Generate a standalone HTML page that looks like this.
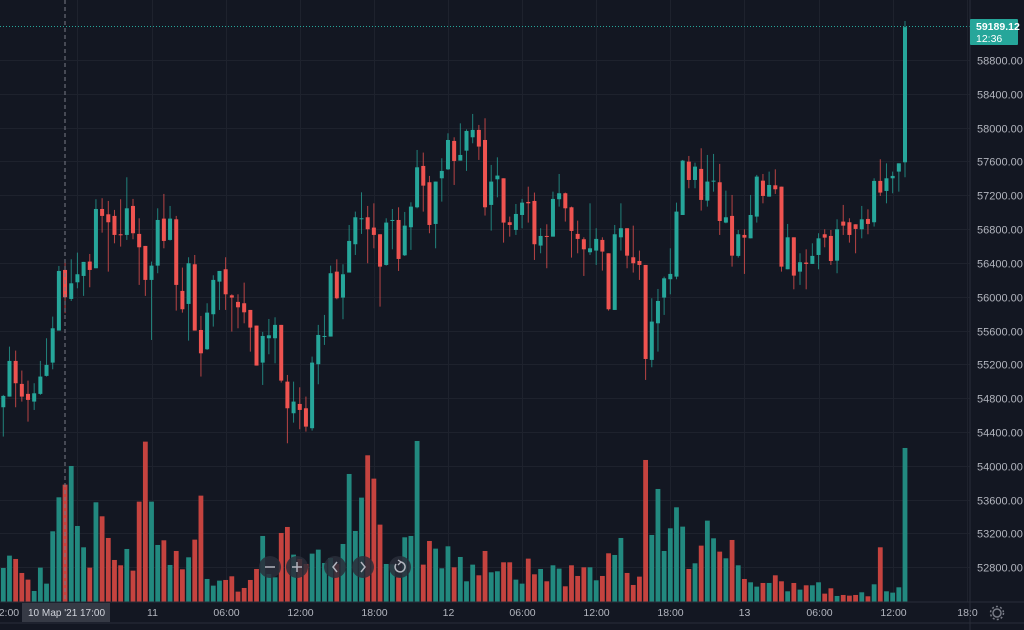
<!DOCTYPE html>
<html><head><meta charset="utf-8"><style>
html,body{margin:0;padding:0;background:#131722;width:1024px;height:630px;overflow:hidden}
svg{display:block;font-family:"Liberation Sans",sans-serif}
</style></head><body>
<svg id="chart" width="1024" height="630" viewBox="0 0 1024 630" xmlns="http://www.w3.org/2000/svg">
<rect x="0" y="0" width="1024" height="630" fill="#131722"/>
<g id="grid"></g>
<g id="vols"></g>
<g id="candles"></g>
<line x1="65" y1="0" x2="65" y2="602" stroke="#787b86" stroke-width="1" stroke-dasharray="4,3"/>
<line x1="0" y1="26.5" x2="970" y2="26.5" stroke="#26a69a" stroke-width="1" stroke-dasharray="1,2"/>
<line x1="970" y1="0" x2="970" y2="630" stroke="#2a2e39"/>
<line x1="0" y1="602" x2="1024" y2="602" stroke="#2a2e39"/>
<line x1="0" y1="623" x2="1024" y2="623" stroke="#2a2e39"/>
<g id="yaxis"></g>
<g id="xaxis"></g>
<g>
<rect x="970" y="19" width="48" height="26" fill="#26a69a" rx="1"/>
<text x="976" y="30" font-size="10.5" fill="#fff" font-weight="bold">59189.12</text>
<text x="976" y="42" font-size="10.5" fill="#fff">12:36</text>
</g>
<g>
<rect x="22" y="603" width="88" height="19" fill="#363a45"/>
<text x="28" y="616" font-size="10" fill="#d1d4dc">10 Мар '21</text>
<text x="80" y="616" font-size="10" fill="#d1d4dc">17:00</text>
</g>
<g><circle cx="270" cy="567" r="11" fill="#2a2e39" fill-opacity="0.85"/><line x1="265" y1="567" x2="275" y2="567" stroke="#b2b5be" stroke-width="1.5"/></g>
<g><circle cx="297" cy="567" r="11" fill="#2a2e39" fill-opacity="0.85"/><line x1="292" y1="567" x2="302" y2="567" stroke="#b2b5be" stroke-width="1.5"/><line x1="297" y1="562" x2="297" y2="572" stroke="#b2b5be" stroke-width="1.5"/></g>
<g><circle cx="335" cy="567" r="11" fill="#2a2e39" fill-opacity="0.85"/><polyline points="337,562 333,567 337,572" fill="none" stroke="#b2b5be" stroke-width="1.5"/></g>
<g><circle cx="363" cy="567" r="11" fill="#2a2e39" fill-opacity="0.85"/><polyline points="361,562 365,567 361,572" fill="none" stroke="#b2b5be" stroke-width="1.5"/></g>
<g><circle cx="400" cy="567" r="11" fill="#2a2e39" fill-opacity="0.85"/><path d="M396,564 A5,5 0 1 0 401,562" fill="none" stroke="#b2b5be" stroke-width="1.5"/><polyline points="398,560 401,562 398,565" fill="none" stroke="#b2b5be" stroke-width="1.3"/></g>
<g><circle cx="997" cy="613" r="4" fill="none" stroke="#787b86" stroke-width="1.5"/><circle cx="997" cy="613" r="6.5" fill="none" stroke="#787b86" stroke-width="1.5" stroke-dasharray="2,2.2"/></g>
</svg>
<script>
const opens=[54693,54819,55241,54969,54851,54760,54851,55064,55221,55600,56317,55974,56171,56246,56416,56337,57038,56975,56956,56739,56731,57074,56743,56601,56199,56368,56924,56672,56916,56069,55915,56384,55607,55379,55793,56179,56325,56017,55939,55923,55844,55659,55221,55509,55509,55667,54996,54622,54732,54681,54445,55202,55529,55529,56297,55990,56286,56621,56916,56940,56818,56739,56376,56900,56908,56490,56822,57058,57547,57354,56861,57401,57507,57843,57610,57728,57886,57973,57854,57086,57389,57401,56881,56790,56967,57121,57133,56605,56719,56711,57153,57224,57058,56743,56680,56526,56546,56672,56514,55844,56703,56810,56467,56423,56376,55253,55686,55990,56207,56238,56967,57598,57381,57512,57137,57362,57354,56877,56956,56483,56731,56691,56948,57373,57184,57318,57302,56325,56703,56297,56404,56388,56494,56739,56719,56427,56889,56881,56857,56798,56920,56881,57370,57251,57401,57480,57590];
const highs=[54839,55410,55363,55127,55008,54977,55241,55509,55765,56364,56404,56443,56522,56412,56506,57153,57165,57133,57027,57153,57413,57157,56928,56601,56416,57046,57216,57074,56956,56345,56467,56494,55773,55923,56254,56305,56467,56029,56029,56167,55844,55659,55584,55737,55757,55667,55075,54996,54929,54819,55292,55667,55785,56368,56443,56384,56849,57007,57235,57074,57105,56739,56928,57038,57058,57003,57117,57736,57705,57429,57362,57638,57933,57886,58051,57980,58162,58032,58111,57559,57649,57401,56948,57097,57157,57302,57232,56810,56857,57243,57452,57232,57066,56900,56703,57105,56810,56703,56514,56849,57105,56810,56841,56546,56376,55982,56092,56238,56573,57113,57618,57665,57586,57756,57677,57689,57571,57255,57204,56790,56798,57204,57441,57452,57480,57507,57302,56861,56703,56514,56561,56632,56751,56798,56790,56916,57086,56928,56857,57074,57034,57401,57626,57578,57480,57578,59262];
const lows=[54346,54819,54693,54760,54523,54661,54839,55056,55142,55600,55805,55950,56100,56010,56112,56337,56758,56297,56632,56593,56672,56680,56140,56010,55489,56278,56573,56664,55836,55812,55481,55600,55056,55371,55647,55844,55844,55588,55627,55686,55351,55186,54957,55320,55213,54985,54267,54511,54433,54405,54417,54965,55430,55529,55970,55734,56286,56494,56743,56396,56573,55883,56368,56561,56305,56482,56554,57046,57007,56751,56573,57125,57500,57322,57610,57488,57815,57618,56960,56782,57176,56640,56711,56731,56810,56877,56435,56514,56337,56711,57066,56889,56463,56514,56246,56494,56376,56309,55836,55844,56546,56337,56286,56199,55016,55166,55351,55785,56029,56207,56967,57283,57283,57019,57066,57243,56731,56869,56356,56463,56270,56691,56877,57105,57184,57216,56297,56325,56088,56140,56088,56388,56325,56585,56376,56278,56731,56640,56514,56691,56739,56830,57192,57105,57224,57243,57413];
const closes=[54827,55241,54977,54819,54780,54858,55056,55194,55627,56305,55994,56159,56266,56412,56317,57038,56956,56881,56731,56727,57046,56751,56585,56199,56368,56908,56660,56924,56140,55852,56396,55600,55331,55812,56199,56305,56029,55990,55875,55816,55635,55186,55536,55544,55667,55008,54681,54760,54661,54464,55221,55548,55536,56278,55982,56266,56660,56940,56928,56798,56731,56356,56877,56908,56447,56841,57066,57531,57314,56849,57362,57488,57854,57606,57677,57961,57973,57776,57058,57362,57433,56877,56849,56979,57113,57105,56621,56719,56707,57157,57224,57046,56778,56684,56561,56573,56684,56534,55852,56739,56810,56486,56396,56376,55264,55706,55950,56218,56270,57007,57610,57381,57539,57145,57362,57373,56896,56940,56486,56739,56699,56967,57421,57192,57322,57271,56356,56703,56250,56408,56388,56483,56691,56699,56423,56798,56841,56731,56802,56916,56861,57370,57232,57401,57429,57578,59189];
const volumes=[1030,1400,1300,880,680,340,1040,560,2130,3150,3530,4090,2290,1650,1040,3000,2580,1930,1270,1110,1600,950,3020,4820,3020,1720,1860,1120,1540,990,1350,1880,3200,700,500,650,670,780,320,430,670,1000,1990,850,750,2080,2260,1430,1300,1150,1460,1580,1180,1330,1150,1750,3850,2140,3140,4410,3710,2330,1150,1140,750,1950,1990,4840,1130,1840,1610,1020,1680,1050,1360,630,1130,810,1540,900,930,1200,1200,680,560,1310,840,1000,630,1110,1010,480,1110,790,1050,1050,660,790,1470,1420,1930,880,520,770,4270,2020,3400,1540,2220,2850,2270,1000,1170,1700,2450,1920,1520,1320,1870,1110,700,600,470,580,580,810,630,330,580,380,510,510,600,260,420,190,220,200,220,300,180,540,1650,330,290,450,4630];
const priceTicks=[58800,58400,58000,57600,57200,56800,56400,56000,55600,55200,54800,54400,54000,53600,53200,52800];
const timeTickLabels=["11","06:00","12:00","18:00","12","06:00","12:00","18:00","13","06:00","12:00","18:0"];
const timeTickBars=[24,36,48,60,72,84,96,108,120,132,144,156];
</script>
<script>
const NS="http://www.w3.org/2000/svg";
function yP(p){return 60+(58800-p)*0.08455;}
function xI(i){return 3.3+6.176*i;}
function yV(v){return 602.3-v/30;}
function xT(b){return 151.5+(b-24)*6.176;}
function mk(tag,attrs,parent){const e=document.createElementNS(NS,tag);for(const k in attrs)e.setAttribute(k,attrs[k]);parent.appendChild(e);return e;}
const grid=document.getElementById('grid'),cg=document.getElementById('candles'),vg=document.getElementById('vols'),ya=document.getElementById('yaxis'),xa=document.getElementById('xaxis');
priceTicks.forEach(p=>{
  const y=Math.round(yP(p))+0.5;
  const l=mk('line',{x1:0,y1:y,x2:970,y2:y,stroke:'#1e222d','stroke-width':1},grid);
  
  
  const t=mk('text',{x:977,y:y+4,'font-size':11,fill:'#b2b5be'},ya);
  t.textContent=p.toFixed(2);
  
  
});
const vl0=mk('line',{x1:77.5,y1:0,x2:77.5,y2:602,stroke:'#1e222d'},grid);


timeTickBars.forEach((b,k)=>{
  const x=Math.round(xT(b))+0.5;
  const l=mk('line',{x1:x,y1:0,x2:x,y2:602,stroke:'#1e222d'},grid);
  
  
  const t=mk('text',{x:x,y:616,'font-size':10.5,fill:'#b2b5be','text-anchor':'middle'},xa);
  t.textContent=timeTickLabels[k];
  
  
});
const t0=mk('text',{x:6,y:616,'font-size':10.5,fill:'#b2b5be','text-anchor':'middle'},xa);
t0.textContent="12:00";


const n=Math.min(opens.length,highs.length,lows.length,closes.length);
for(let i=0;i<n;i++){
  const up=closes[i]>=opens[i];
  const col=up?'#26a69a':'#ef5350';
  const x=xI(i);
  if(i<volumes.length){
    const vy=yV(volumes[i]);
    const r=mk('rect',{x:x-2.4,y:vy,width:4.8,height:602.3-vy,fill:up?'#22897f':'#c5433f'},vg);
    
    
  }
  const g=mk('g',{},cg);
  
  
  mk('line',{x1:x,y1:yP(highs[i]),x2:x,y2:yP(lows[i]),stroke:col,'stroke-opacity':0.75,'stroke-width':1},g);
  const top=yP(Math.max(opens[i],closes[i])),bot=yP(Math.min(opens[i],closes[i]));
  mk('rect',{x:x-2,y:top,width:4,height:Math.max(1,bot-top),fill:col},g);
}
</script>
</body></html>
